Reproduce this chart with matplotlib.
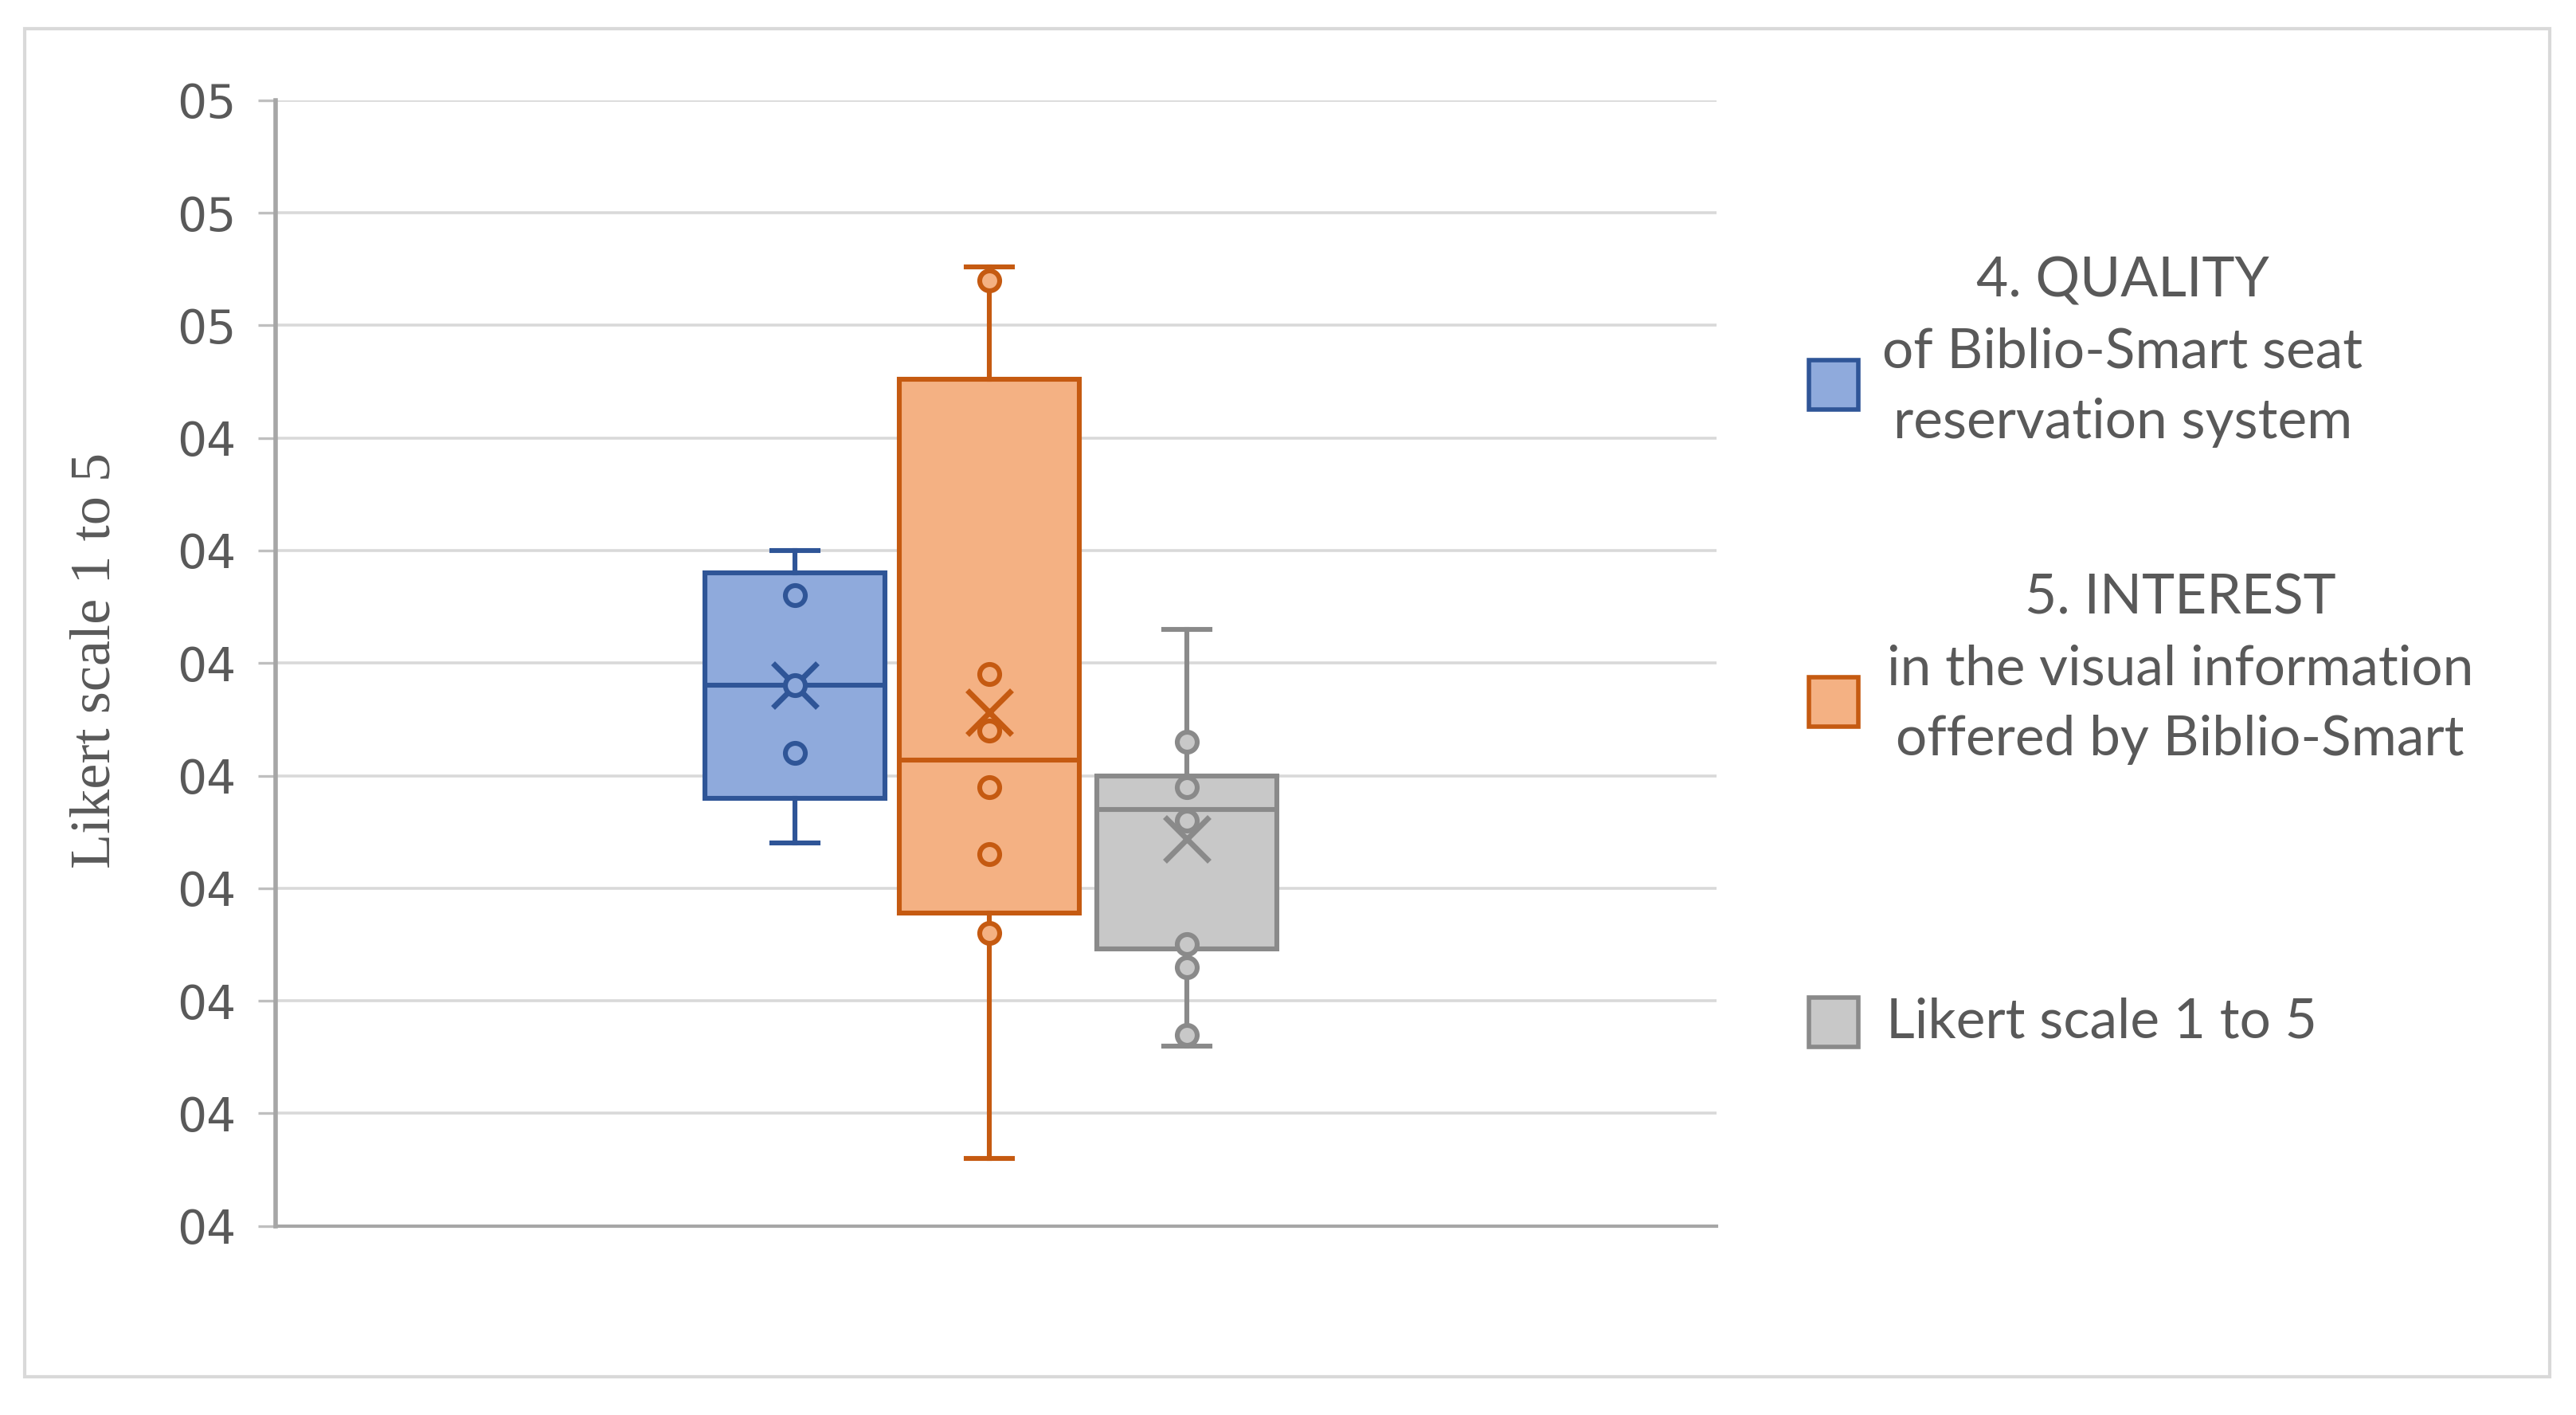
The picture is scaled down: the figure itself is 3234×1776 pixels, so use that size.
import matplotlib.pyplot as plt
from matplotlib.patches import Rectangle
import numpy as np

# values (y scale 4.00 .. 4.50)
series_names = ["4. QUALITY\nof Biblio-Smart seat\nreservation system",
                "5. INTEREST\nin the visual information\noffered by Biblio-Smart",
                "Likert scale 1 to 5"]
q1 = [4.190, 4.139, 4.123]
median = [4.240, 4.207, 4.185]
q3 = [4.290, 4.376, 4.200]
whis_lo = [4.170, 4.030, 4.080]
whis_hi = [4.300, 4.426, 4.265]
means = [4.240, 4.228, 4.172]
points_quality = [4.280, 4.240, 4.210]
points_interest = [4.420, 4.245, 4.220, 4.195, 4.165, 4.130]
points_likert = [4.215, 4.195, 4.180, 4.125, 4.115, 4.085]
yticks = [4.00, 4.05, 4.10, 4.15, 4.20, 4.25, 4.30, 4.35, 4.40, 4.45, 4.50]
ytick_labels = ["04", "04", "04", "04", "04", "04", "04", "04", "05", "05", "05"]

edge_colors = ["#2f5597", "#c55a11", "#8a8a8a"]
face_colors = ["#8faadc", "#f4b183", "#c8c8c8"]
text_color = "#595959"
positions = [0.360, 0.495, 0.632]

fig = plt.figure(figsize=(16.17, 8.88), dpi=200, facecolor='white')
fig.patches.append(Rectangle((0.0096, 0.027), 0.9802, 0.953, transform=fig.transFigure,
                             fill=False, edgecolor='#d9d9d9', linewidth=1.5))

ax = fig.add_axes([0.1071, 0.1336, 0.5594, 0.7956])

stats = []
for i in range(3):
    stats.append(dict(q1=q1[i], med=median[i], q3=q3[i], whislo=whis_lo[i],
                      whishi=whis_hi[i], mean=means[i], fliers=[]))

all_points = [points_quality, points_interest, points_likert]
for i in range(3):
    ec = edge_colors[i]
    fc = face_colors[i]
    ax.bxp([stats[i]], positions=[positions[i]], widths=0.125, capwidths=0.032,
           patch_artist=True, showmeans=True, showfliers=False,
           boxprops=dict(facecolor=fc, edgecolor=ec, linewidth=2.2),
           medianprops=dict(color=ec, linewidth=2.2),
           whiskerprops=dict(color=ec, linewidth=2.2),
           capprops=dict(color=ec, linewidth=2.2),
           meanprops=dict(marker='x', markeredgecolor=ec, markersize=20, markeredgewidth=2.5),
           zorder=3)
    pts = all_points[i]
    ax.plot(np.full(len(pts), positions[i]), pts, 'o', markersize=9,
            markerfacecolor=fc, markeredgecolor=ec, markeredgewidth=2.2, zorder=4)

ax.set_xlim(0, 1)
ax.set_ylim(4.0, 4.5)
ax.set_yticks(yticks)
ax.set_yticklabels(ytick_labels, fontsize=21, color=text_color, family='DejaVu Sans')
ax.set_xticks([])
ax.tick_params(axis='y', length=8, width=1.2, color='#bfbfbf', pad=10)
ax.grid(axis='y', color='#d9d9d9', linewidth=1.3, zorder=0)
ax.set_axisbelow(True)
for s in ['top', 'right']:
    ax.spines[s].set_visible(False)
ax.spines['left'].set_color('#a6a6a6')
ax.spines['left'].set_linewidth(2.0)
ax.spines['bottom'].set_color('#a6a6a6')
ax.spines['bottom'].set_linewidth(1.5)

fig.text(0.037, 0.533, "Likert scale 1 to 5", rotation=90, ha='center', va='center',
         fontsize=26, color=text_color, family='Liberation Serif')

# legend drawn by hand
leg_y = [1 - 234 / 861, 1 - 427 / 861, 1 - 622 / 861]
leg_text_x = [1292 / 1568, 1327 / 1568, 1148 / 1568]
leg_ha = ['center', 'center', 'left']
sq_w = 30 / 1568
sq_h = 30 / 861
for i in range(3):
    fig.patches.append(Rectangle((1101 / 1568, leg_y[i] - sq_h / 2), sq_w, sq_h,
                                 transform=fig.transFigure, facecolor=face_colors[i],
                                 edgecolor=edge_colors[i], linewidth=2.0))
    fig.text(leg_text_x[i], leg_y[i] + 0.023 if i < 2 else leg_y[i], series_names[i],
             ha=leg_ha[i], va='center', multialignment='center', fontsize=25,
             color=text_color, family='Lato', linespacing=1.5)

plt.savefig("out.png", dpi=200)
